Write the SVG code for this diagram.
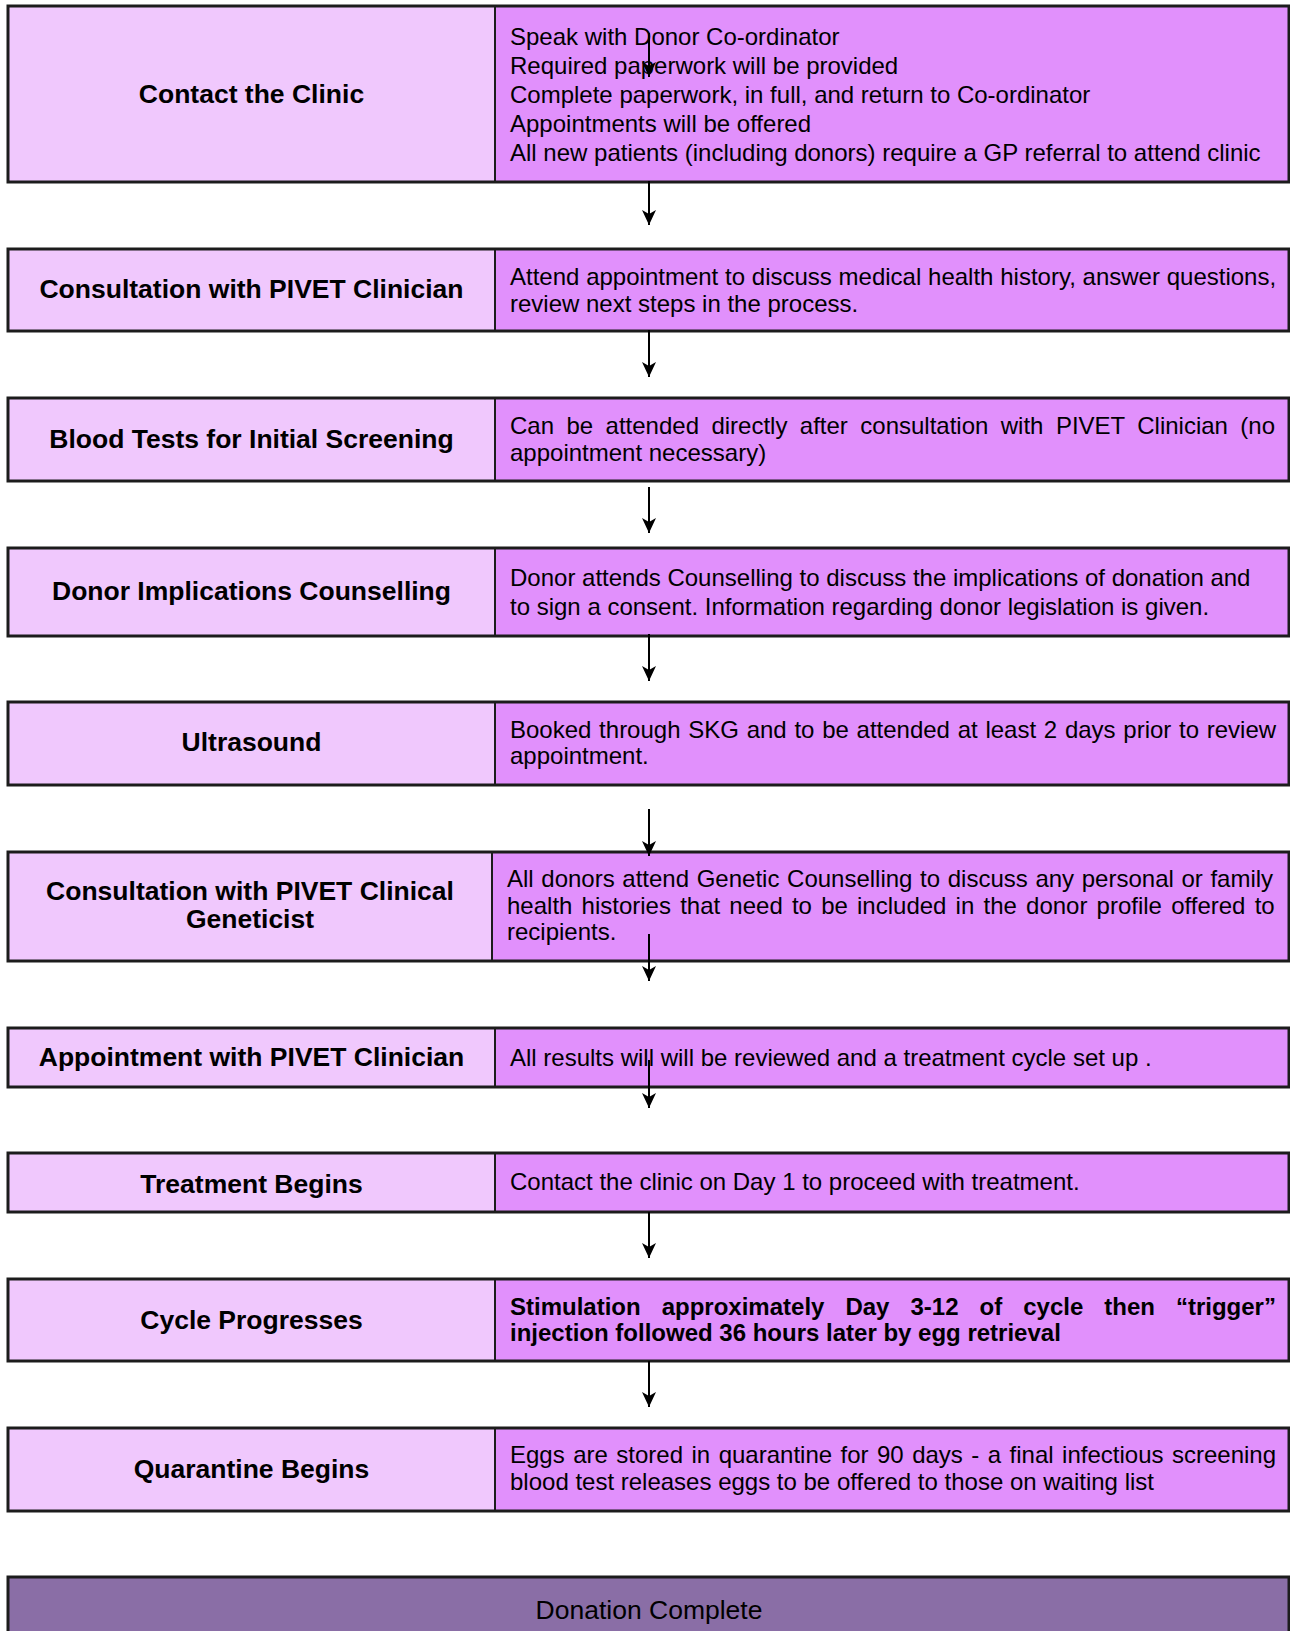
<svg xmlns="http://www.w3.org/2000/svg" width="1290" height="1631" viewBox="0 0 1290 1631">
<defs>
<style>
.lc{fill:#F0C8FD;}
.rc{fill:#E190FC;}
.ol{fill:none;stroke:#1c1c1c;stroke-width:3;}
.dv{stroke:#1c1c1c;stroke-width:2;}
.lb{font-family:"Liberation Sans",Arial,sans-serif;font-weight:bold;font-size:26.5px;fill:#000;text-anchor:middle;}
.bt{font-family:"Liberation Sans",Arial,sans-serif;font-size:24px;fill:#000;}
.bb{font-weight:bold;}
.cn{stroke:#000;stroke-width:2;fill:none;marker-end:url(#ah);}
</style>
<marker id="ah" markerUnits="userSpaceOnUse" markerWidth="18" markerHeight="16" viewBox="-16 -8 18 16" refX="0" refY="0" orient="auto">
<path d="M0,0 L-15,-7 L-11,0 L-15,7 Z" fill="#000"/>
</marker>
</defs>
<rect width="1290" height="1631" fill="#fff"/>

<g id="n1">
<rect class="lc" x="8" y="6" width="487" height="176"/>
<rect class="rc" x="495" y="6" width="794" height="176"/>
<line class="dv" x1="495" y1="6" x2="495" y2="182"/>
<rect class="ol" x="8" y="6" width="1281" height="176"/>
<text class="lb" x="251.5" y="103">Contact the Clinic</text>
<text class="bt" x="510" y="45">Speak with Donor Co-ordinator</text>
<text class="bt" x="510" y="74">Required paperwork will be provided</text>
<text class="bt" x="510" y="103">Complete paperwork, in full, and return to Co-ordinator</text>
<text class="bt" x="510" y="132">Appointments will be offered</text>
<text class="bt" x="510" y="161">All new patients (including donors) require a GP referral to attend clinic</text>
</g>

<g id="n2">
<rect class="lc" x="8" y="249" width="487" height="82"/>
<rect class="rc" x="495" y="249" width="794" height="82"/>
<line class="dv" x1="495" y1="249" x2="495" y2="331"/>
<rect class="ol" x="8" y="249" width="1281" height="82"/>
<text class="lb" x="251.5" y="297.5">Consultation with PIVET Clinician</text>
<text class="bt" x="510" y="285" word-spacing="0.1">Attend appointment to discuss medical health history, answer questions,</text>
<text class="bt" x="510" y="312">review next steps in the process.</text>
</g>

<g id="n3">
<rect class="lc" x="8" y="398" width="487" height="83"/>
<rect class="rc" x="495" y="398" width="794" height="83"/>
<line class="dv" x1="495" y1="398" x2="495" y2="481"/>
<rect class="ol" x="8" y="398" width="1281" height="83"/>
<text class="lb" x="251.5" y="447.5">Blood Tests for Initial Screening</text>
<text class="bt" x="510" y="434" word-spacing="5.75">Can be attended directly after consultation with PIVET Clinician (no</text>
<text class="bt" x="510" y="461">appointment necessary)</text>
</g>

<g id="n4">
<rect class="lc" x="8" y="548" width="487" height="88"/>
<rect class="rc" x="495" y="548" width="794" height="88"/>
<line class="dv" x1="495" y1="548" x2="495" y2="636"/>
<rect class="ol" x="8" y="548" width="1281" height="88"/>
<text class="lb" x="251.5" y="599.5">Donor Implications Counselling</text>
<text class="bt" x="510" y="585.5">Donor attends Counselling to discuss the implications of donation and</text>
<text class="bt" x="510" y="615">to sign a consent. Information regarding donor legislation is given.</text>
</g>

<g id="n5">
<rect class="lc" x="8" y="702" width="487" height="83"/>
<rect class="rc" x="495" y="702" width="794" height="83"/>
<line class="dv" x1="495" y1="702" x2="495" y2="785"/>
<rect class="ol" x="8" y="702" width="1281" height="83"/>
<text class="lb" x="251.5" y="751">Ultrasound</text>
<text class="bt" x="510" y="737.5" word-spacing="1.05">Booked through SKG and to be attended at least 2 days prior to review</text>
<text class="bt" x="510" y="764">appointment.</text>
</g>

<g id="n6">
<rect class="lc" x="8" y="852" width="484" height="109"/>
<rect class="rc" x="492" y="852" width="797" height="109"/>
<line class="dv" x1="492" y1="852" x2="492" y2="961"/>
<rect class="ol" x="8" y="852" width="1281" height="109"/>
<text class="lb" x="250" y="900">Consultation with PIVET Clinical</text>
<text class="lb" x="250" y="928">Geneticist</text>
<text class="bt" x="507" y="887" word-spacing="0.97">All donors attend Genetic Counselling to discuss any personal or family</text>
<text class="bt" x="507" y="913.5" word-spacing="2.52">health histories that need to be included in the donor profile offered to</text>
<text class="bt" x="507" y="940">recipients.</text>
</g>

<g id="n7">
<rect class="lc" x="8" y="1028" width="487" height="59"/>
<rect class="rc" x="495" y="1028" width="794" height="59"/>
<line class="dv" x1="495" y1="1028" x2="495" y2="1087"/>
<rect class="ol" x="8" y="1028" width="1281" height="59"/>
<text class="lb" x="251.5" y="1065.5">Appointment with PIVET Clinician</text>
<text class="bt" x="510" y="1066">All results will will be reviewed and a treatment cycle set up .</text>
</g>

<g id="n8">
<rect class="lc" x="8" y="1153" width="487" height="59"/>
<rect class="rc" x="495" y="1153" width="794" height="59"/>
<line class="dv" x1="495" y1="1153" x2="495" y2="1212"/>
<rect class="ol" x="8" y="1153" width="1281" height="59"/>
<text class="lb" x="251.5" y="1192.5">Treatment Begins</text>
<text class="bt" x="510" y="1189.5">Contact the clinic on Day 1 to proceed with treatment.</text>
</g>

<g id="n9">
<rect class="lc" x="8" y="1279" width="487" height="82"/>
<rect class="rc" x="495" y="1279" width="794" height="82"/>
<line class="dv" x1="495" y1="1279" x2="495" y2="1361"/>
<rect class="ol" x="8" y="1279" width="1281" height="82"/>
<text class="lb" x="251.5" y="1328.5">Cycle Progresses</text>
<text class="bt bb" x="510" y="1314.5" word-spacing="14.35">Stimulation approximately Day 3-12 of cycle then “trigger”</text>
<text class="bt bb" x="510" y="1341">injection followed 36 hours later by egg retrieval</text>
</g>

<g id="n10">
<rect class="lc" x="8" y="1428" width="487" height="83"/>
<rect class="rc" x="495" y="1428" width="794" height="83"/>
<line class="dv" x1="495" y1="1428" x2="495" y2="1511"/>
<rect class="ol" x="8" y="1428" width="1281" height="83"/>
<text class="lb" x="251.5" y="1477.5">Quarantine Begins</text>
<text class="bt" x="510" y="1463" word-spacing="1.8">Eggs are stored in quarantine for 90 days - a final infectious screening</text>
<text class="bt" x="510" y="1490">blood test releases eggs to be offered to those on waiting list</text>
</g>

<g id="n11">
<rect x="8" y="1577" width="1281" height="100" fill="#8A6EA6" stroke="#1c1c1c" stroke-width="3"/>
<text x="649" y="1619" font-family="'Liberation Sans',Arial,sans-serif" font-size="26.5" text-anchor="middle" fill="#000">Donation Complete</text>
</g>

<g id="connectors">
<line class="cn" x1="649" y1="33" x2="649" y2="77"/>
<line class="cn" x1="649" y1="181" x2="649" y2="225"/>
<line class="cn" x1="649" y1="330" x2="649" y2="377"/>
<line class="cn" x1="649" y1="487" x2="649" y2="533"/>
<line class="cn" x1="649" y1="634" x2="649" y2="681"/>
<line class="cn" x1="649" y1="809" x2="649" y2="856"/>
<line class="cn" x1="649" y1="934" x2="649" y2="981"/>
<line class="cn" x1="649" y1="1060" x2="649" y2="1108"/>
<line class="cn" x1="649" y1="1212" x2="649" y2="1258"/>
<line class="cn" x1="649" y1="1361" x2="649" y2="1407"/>
</g>
</svg>
